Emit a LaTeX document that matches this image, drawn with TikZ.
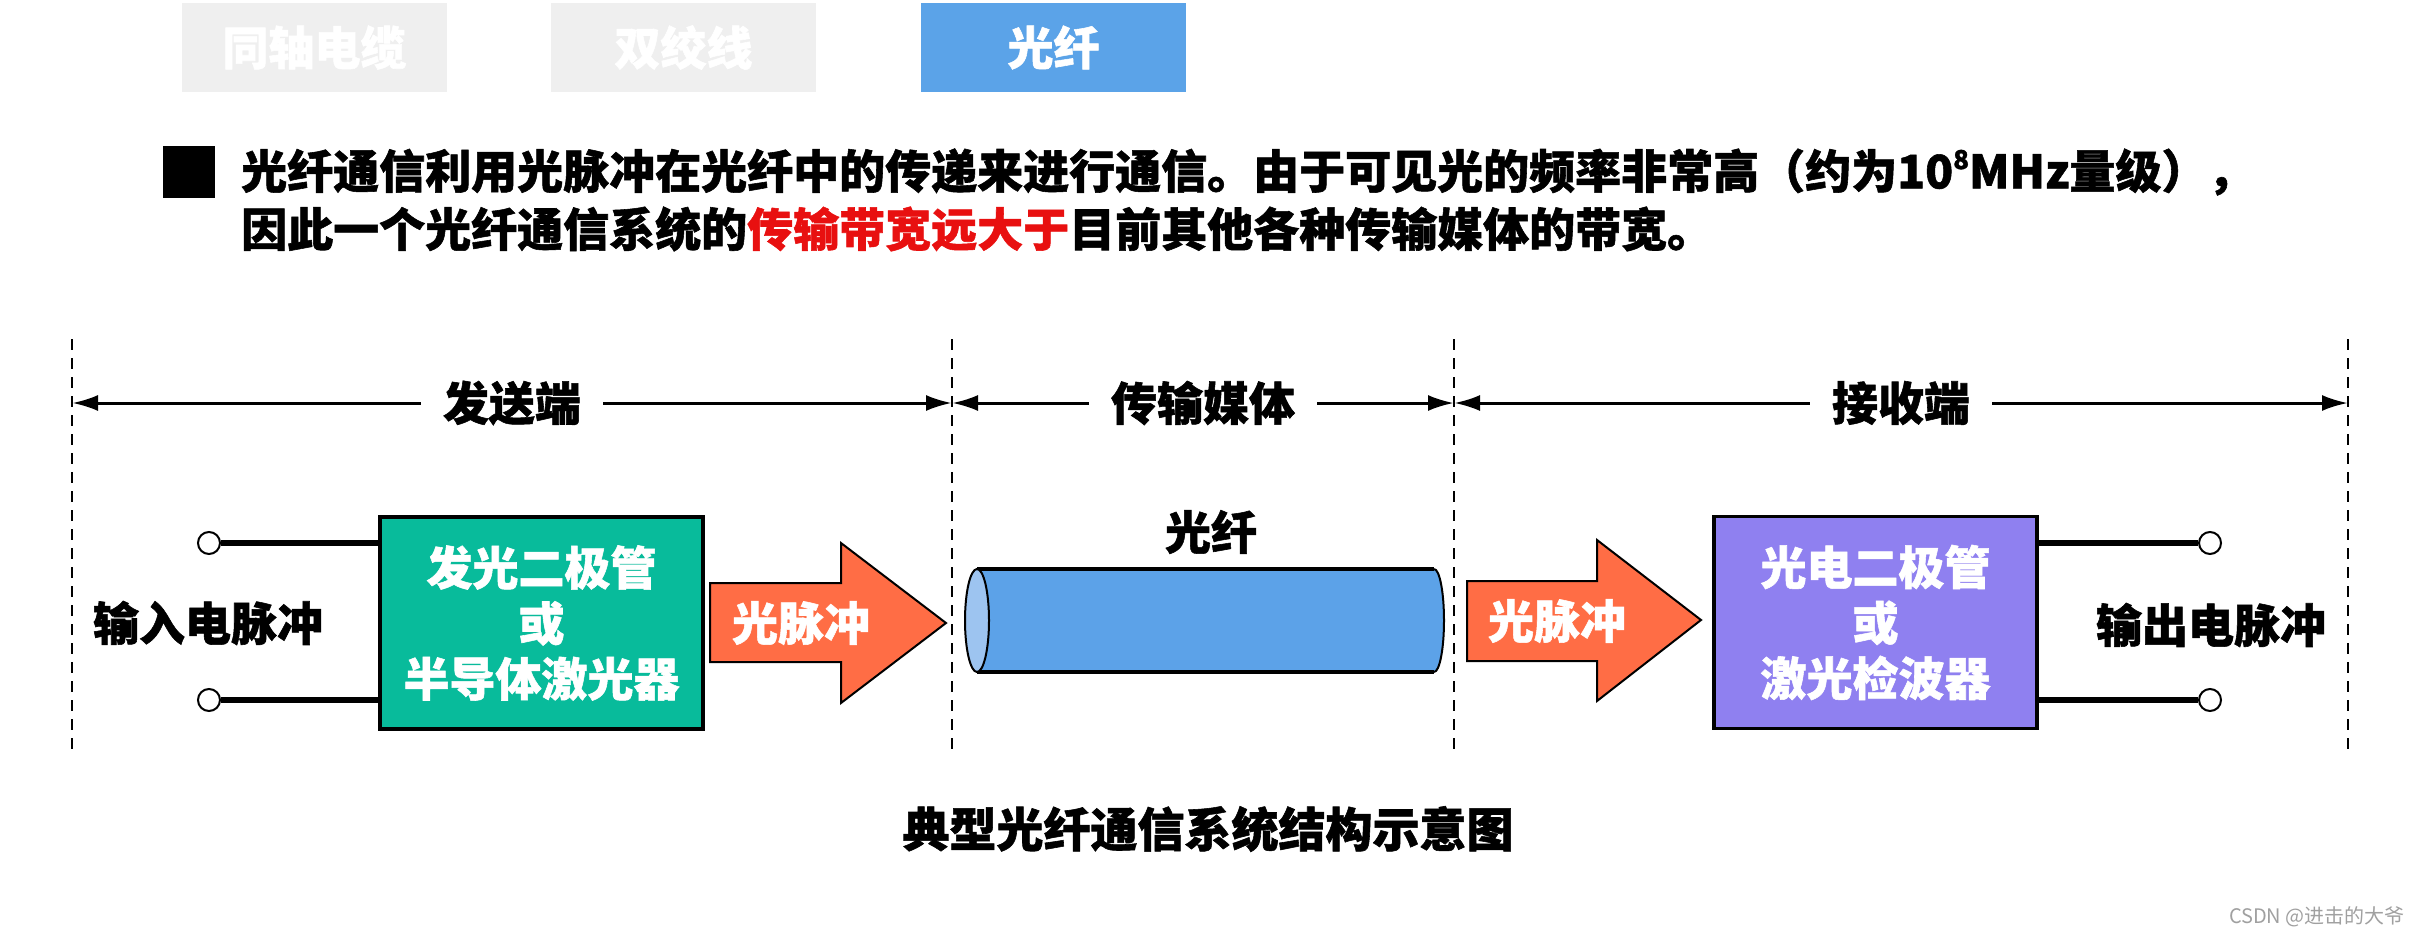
\documentclass[tikz,border=0pt]{standalone}
\usepackage{fontspec}
\setmainfont{Noto Sans CJK SC}[BoldFeatures={FakeBold=1.2}]
\usetikzlibrary{arrows.meta}
\definecolor{tabgray}{HTML}{EFEFEF}
\definecolor{tabblue}{HTML}{5BA3E8}
\definecolor{fiberblue}{HTML}{5CA2E8}
\definecolor{fiberlight}{HTML}{9DC4F0}
\definecolor{txteal}{HTML}{08BB9B}
\definecolor{rxpurple}{HTML}{8F80F0}
\definecolor{pulsecoral}{HTML}{FF6D45}
\definecolor{hired}{HTML}{E81010}
\definecolor{wmgray}{HTML}{A0A0A0}
\begin{document}
\begin{tikzpicture}[x=1pt,y=1pt,
  big/.style={font=\fontsize{46pt}{55.5pt}\selectfont\bfseries},
  tabbox/.style={minimum width=265pt, minimum height=89pt, inner sep=0pt, text=white, big},
  block/.style={draw=black, line width=3.5pt, minimum width=323pt, minimum height=212pt, align=center, text=white, big, inner sep=0pt},
  term/.style={circle, draw=black, line width=2pt, fill=white, minimum size=22pt, inner sep=0pt},
  wire/.style={line width=6pt},
  dimline/.style={line width=3pt, {Latex[length=26pt,width=16pt]}-{Latex[length=26pt,width=16pt]}},
  dimlabel/.style={fill=white, inner xsep=22pt, inner ysep=4pt, big},
  divider/.style={line width=2pt, dash pattern=on 11pt off 8pt},
  blockarrow/.style={draw=black, line width=2pt, fill=pulsecoral, line join=miter},
  pulselabel/.style={big, text=white, inner sep=0pt}
]
\useasboundingbox (0,0) rectangle (2414,-936);

% tabs
\node[tabbox, fill=tabgray] (tab1) at (314.5,-47.5) {同轴电缆};
\node[tabbox, fill=tabgray] (tab2) at (683.5,-47.5) {双绞线};
\node[tabbox, fill=tabblue] (tab3) at (1053.5,-47.5) {光纤};

% paragraph
\node[fill=black, minimum size=52pt, inner sep=0pt] (bullet) at (189,-172) {};
\node[big, anchor=west, inner sep=0pt] (line1) at (241,-172)
  {光纤通信利用光脉冲在光纤中的传递来进行通信。由于可见光的频率非常高（约为10\raisebox{0.42em}{\fontsize{26pt}{26pt}\selectfont 8}MHz量级），};
\node[big, anchor=west, inner sep=0pt] (line2) at (241,-229)
  {因此一个光纤通信系统的\textcolor{hired}{传输带宽远大于}目前其他各种传输媒体的带宽。};

% dividers
\foreach \x/\n in {72/a,952/b,1454/c,2348/d}{
  \coordinate (top\n) at (\x,-339);
  \coordinate (bot\n) at (\x,-750);
  \coordinate (mid\n) at (\x,-403);
  \draw[divider] (top\n) -- (bot\n);
}
\draw[dimline] (mida) -- (midb) node[midway, dimlabel] (lblsend) {发送端};
\draw[dimline] (midb) -- (midc) node[midway, dimlabel] (lblmedia) {传输媒体};
\draw[dimline] (midc) -- (midd) node[midway, dimlabel] (lblrecv) {接收端};

% transmitter
\node[block, fill=txteal] (tx) at (541.5,-623) {发光二极管\\或\\半导体激光器};
\node[term] (inA) at (209,-543) {};
\node[term] (inB) at (209,-700) {};
\draw[wire] (inA) -- (inA -| tx.west);
\draw[wire] (inB) -- (inB -| tx.west);
\node[big] (inlabel) at (208,-623) {输入电脉冲};

% pulse arrow 1
\draw[blockarrow] (710,-583) -- (841,-583) -- (841,-543) -- (946,-623) -- (841,-703) -- (841,-662) -- (710,-662) -- cycle;
\node[pulselabel] (pulse1) at (801,-623) {光脉冲};

% fiber
\fill[fiberblue] (977,-569) -- (1434,-569) arc[start angle=90, end angle=-90, x radius=10pt, y radius=51.5pt] -- (977,-672) -- cycle;
\draw[line width=4pt] (977,-569) -- (1434,-569);
\draw[line width=4pt] (977,-672) -- (1434,-672);
\draw[line width=2pt] (1434,-569) arc[start angle=90, end angle=-90, x radius=10pt, y radius=51.5pt];
\draw[line width=2pt, fill=fiberlight] (977,-620.5) ellipse [x radius=12pt, y radius=51.5pt];
\node[big] (fiberlabel) at (1211,-532) {光纤};

% pulse arrow 2
\draw[blockarrow] (1467,-581) -- (1597,-581) -- (1597,-540) -- (1701,-620) -- (1597,-701) -- (1597,-661) -- (1467,-661) -- cycle;
\node[pulselabel] (pulse2) at (1557,-621) {光脉冲};

% receiver
\node[block, fill=rxpurple] (rx) at (1875.5,-622.5) {光电二极管\\或\\激光检波器};
\node[term] (outA) at (2210,-543) {};
\node[term] (outB) at (2210,-700) {};
\draw[wire] (outA) -- (outA -| rx.east);
\draw[wire] (outB) -- (outB -| rx.east);
\node[big] (outlabel) at (2211,-625) {输出电脉冲};

% caption
\node[font=\fontsize{47pt}{47pt}\selectfont\bfseries] (caption) at (1208,-829) {典型光纤通信系统结构示意图};
\node[font=\fontsize{20pt}{20pt}\selectfont, text=wmgray, anchor=east, inner sep=0pt] (wm) at (2405,-917) {CSDN @进击的大爷};
\end{tikzpicture}
\end{document}
